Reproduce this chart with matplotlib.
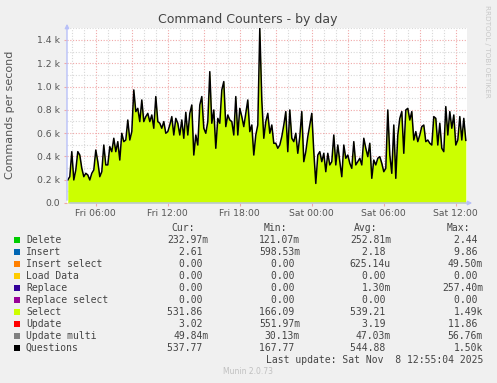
import matplotlib
matplotlib.use('Agg')
import matplotlib.pyplot as plt
import numpy as np

# ---- data: Questions per second, 10-minute samples starting Fri 03:40 ----
start_hour = 3 + 40 / 60
step_hours = 10 / 60
questions = [
    198, 226, 441, 198, 284, 441, 412, 298, 226, 255, 241, 198, 255, 284, 455, 355, 226, 269, 498, 327,
    327, 484, 441, 556, 441, 527, 369, 599, 527, 541, 713, 541, 613, 971, 785, 813, 699, 885, 699, 742,
    770, 699, 756, 642, 914, 699, 685, 642, 699, 599,
    613, 670, 742, 584, 727, 685, 584, 713, 556, 779, 584, 770, 842, 412, 584, 498, 842, 914, 642, 599,
    699, 1128, 685, 799, 470, 727, 685, 971, 1043, 656, 756, 713, 699, 584, 914, 584, 813, 742, 656, 770,
    885, 613, 670, 412, 584, 670, 1500, 885, 556, 699,
    770, 599, 670, 513, 513, 470, 498, 570, 670, 785, 441, 799, 556, 527, 599, 427, 570, 785, 355, 441,
    570, 670, 770, 441, 168, 412, 441, 355, 427, 269, 427, 327, 355, 584, 327, 498, 355, 226, 498, 384,
    412, 341, 298, 527, 327, 355, 384, 327, 556, 470,
    398, 513, 212, 369, 327, 384, 398, 341, 269, 298, 799, 412, 255, 670, 212, 584, 727, 785, 427, 799,
    813, 713, 785, 541, 613, 527, 584, 656, 670, 527, 541, 513, 498, 742, 727, 498, 685, 470, 441, 828,
    584, 785, 642, 756, 498, 541, 742, 541, 727, 538,
]

x_tick_hours = [6, 12, 18, 24, 30, 36]
x_tick_labels = ['Fri 06:00', 'Fri 12:00', 'Fri 18:00', 'Sat 00:00', 'Sat 06:00', 'Sat 12:00']
y_tick_values = [0, 200, 400, 600, 800, 1000, 1200, 1400]
y_tick_labels = ['0.0', '0.2 k', '0.4 k', '0.6 k', '0.8 k', '1.0 k', '1.2 k', '1.4 k']

legend_names = ['Delete', 'Insert', 'Insert select', 'Load Data', 'Replace', 'Replace select',
                'Select', 'Update', 'Update multi', 'Questions']
legend_colors = ['#00cc00', '#0066b3', '#ff8000', '#ffcc00', '#330099', '#990099',
                 '#ccff00', '#ff0000', '#808080', '#000000']
cur_vals = ['232.97m', '2.61 ', '0.00 ', '0.00 ', '0.00 ', '0.00 ', '531.86 ', '3.02 ', '49.84m', '537.77 ']
min_vals = ['121.07m', '598.53m', '0.00 ', '0.00 ', '0.00 ', '0.00 ', '166.09 ', '551.97m', '30.13m', '167.77 ']
avg_vals = ['252.81m', '2.18 ', '625.14u', '0.00 ', '1.30m', '0.00 ', '539.21 ', '3.19 ', '47.03m', '544.88 ']
max_vals = ['2.44 ', '9.86 ', '49.50m', '0.00 ', '257.40m', '0.00 ', '1.49k', '11.86 ', '56.76m', '1.50k']

W, H = 497, 383
fig = plt.figure(figsize=(W / 100, H / 100), dpi=100, facecolor='#f0f0f0')


def fx(px):
    return px / W


def fy(py):
    return 1 - py / H


ax = fig.add_axes([fx(67), fy(203), 400 / W, 175 / H])
ax.set_facecolor('white')
t = start_hour + step_hours * np.arange(len(questions))
x0 = 3.6
ax.set_xlim(x0, x0 + 400 / 12)
ax.set_ylim(0, 1503)

# grid
minor_c = '#d8d8d8'
major_c = '#f0a8a8'
for h in range(4, 37):
    ax.axvline(h, color=major_c if h % 3 == 0 else minor_c, lw=0.8, ls=(0, (1, 1.5)), zorder=0)
for v in range(100, 1600, 100):
    ax.axhline(v, color=major_c if v % 200 == 0 else minor_c, lw=0.8, ls=(0, (1, 1.5)), zorder=0)

ax.fill_between(t, 0, questions, color='#ccff00', lw=0, zorder=1)
ax.plot(t, questions, color='black', lw=1.1, zorder=2)

for s in ax.spines.values():
    s.set_visible(False)

axis_c = '#b8c0f8'
ax.annotate('', xy=(0, 1.04), xytext=(0, 0), xycoords='axes fraction',
            arrowprops=dict(arrowstyle='-|>', color=axis_c, lw=1, mutation_scale=6), annotation_clip=False)
ax.annotate('', xy=(1.02, 0), xytext=(0, 0), xycoords='axes fraction',
            arrowprops=dict(arrowstyle='-|>', color=axis_c, lw=1, mutation_scale=6), annotation_clip=False)

ax.set_xticks(x_tick_hours)
ax.set_xticklabels(x_tick_labels, fontsize=6.7, color='#555555')
ax.set_yticks(y_tick_values)
ax.set_yticklabels(y_tick_labels, fontsize=6.7, color='#555555')
ax.tick_params(axis='x', length=2, width=0.8, color=major_c, pad=2)
ax.tick_params(axis='y', length=2, width=0.8, color=major_c, pad=3)

fig.text(fx(248), fy(19), 'Command Counters - by day', fontsize=9, color='#444444',
         ha='center', va='center')
fig.text(fx(10), fy(115), 'Commands per second', fontsize=8, color='#555555',
         rotation=90, ha='center', va='center')
fig.text(fx(487), fy(5), 'RRDTOOL / TOBI OETIKER', fontsize=5.2, color='#c8c8c8',
         rotation=270, ha='center', va='top')

mono = 'DejaVu Sans Mono'
tc = '#444444'
fs = 7
for txt, x in [('Cur:', 195), ('Min:', 287), ('Avg:', 377), ('Max:', 470)]:
    fig.text(fx(x), fy(228), txt, family=mono, fontsize=fs, color=tc, ha='right', va='center')

for i, name in enumerate(legend_names):
    y = 240 + 12 * i
    fig.patches.append(plt.Rectangle((fx(14), fy(y + 3)), 6 / W, 6 / H, transform=fig.transFigure,
                                     facecolor=legend_colors[i], edgecolor='none'))
    fig.text(fx(26), fy(y), name, family=mono, fontsize=fs, color=tc, ha='left', va='center')
    for vals, xr in [(cur_vals, 208.5), (min_vals, 300), (avg_vals, 391), (max_vals, 483)]:
        fig.text(fx(xr), fy(y), vals[i], family=mono, fontsize=fs, color=tc, ha='right', va='center')

fig.text(fx(483), fy(360), 'Last update: Sat Nov  8 12:55:04 2025', family=mono, fontsize=fs,
         color=tc, ha='right', va='center')
fig.text(fx(248), fy(372), 'Munin 2.0.73', fontsize=5.5, color='#c0c0c0', ha='center', va='center')

fig.savefig('out.png', dpi=100, facecolor=fig.get_facecolor())
